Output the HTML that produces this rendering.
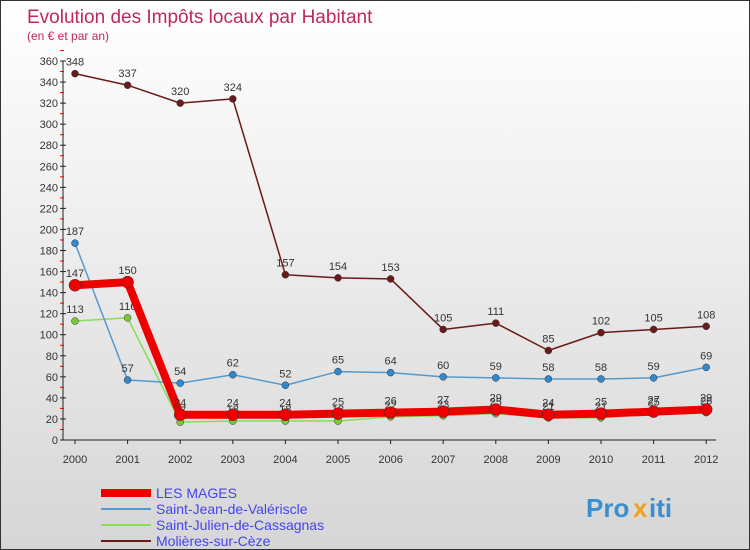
<!DOCTYPE html>
<html><head><meta charset="utf-8"><style>
body{margin:0}
#c{width:748px;height:548px;border:1px solid #333;position:relative;background:linear-gradient(#ffffff,#d6d6d6);font-family:"Liberation Sans",sans-serif;overflow:hidden}
</style></head><body>
<div id="c">
<svg id="s" width="748" height="548" xmlns="http://www.w3.org/2000/svg">
<text x="26" y="22" font-size="19" fill="#c0285a">Evolution des Impôts locaux par Habitant</text>
<text x="26" y="39" font-size="12" fill="#c0285a">(en € et par an)</text>
<g id="axes"></g><g id="series"></g><g id="legend"></g>
<g font-size="26" font-weight="bold">
<text x="585" y="516" fill="#3a8fd0">Pro</text><text x="632" y="516" fill="#f0a020">x</text><text x="648" y="516" fill="#3a8fd0">iti</text>
</g>
</svg>
</div>
<script>
const years=[2000,2001,2002,2003,2004,2005,2006,2007,2008,2009,2010,2011,2012];
const yTicks=[0,20,40,60,80,100,120,140,160,180,200,220,240,260,280,300,320,340,360];
const mages=[147,150,24,24,24,25,26,27,29,24,25,27,29];
const stJean=[187,57,54,62,52,65,64,60,59,58,58,59,69];
const stJulien=[113,116,17,18,18,18,22,23,25,21,21,25,26];
const molieres=[348,337,320,324,157,154,153,105,111,85,102,105,108];
const NS="http://www.w3.org/2000/svg";
const X=i=>74+i*52.6, Y=v=>439-v*379/360;
function mk(t,a,p){const e=document.createElementNS(NS,t);for(const k in a)e.setAttribute(k,a[k]);p.appendChild(e);return e;}
const ax=document.getElementById('axes');
let l=mk('line',{x1:62,y1:Y(360),x2:62,y2:Y(0),stroke:'#222'},ax);


l=mk('line',{x1:62,y1:Y(0),x2:X(12)+10,y2:Y(0),stroke:'#222'},ax);


yTicks.forEach(v=>{
 mk('line',{x1:59,x2:65,y1:Y(v),y2:Y(v),stroke:'#222'},ax);
 mk('line',{x1:59,x2:63,y1:Y(v+10),y2:Y(v+10),stroke:'#e00'},ax);
 const t=mk('text',{x:57,y:Y(v)+4,'text-anchor':'end','font-size':11,fill:'#333'},ax);t.textContent=v;
 
 
});
years.forEach((y,i)=>{
 mk('line',{x1:X(i),x2:X(i),y1:Y(0),y2:Y(0)+4,stroke:'#222'},ax);
 const t=mk('text',{x:X(i),y:Y(0)+23,'text-anchor':'middle','font-size':11,fill:'#333'},ax);t.textContent=y;
 
 
});
const sg=document.getElementById('series');
function series(d,name,col,w,dot,r,labels){
 const g=mk('g',{},sg);
 
 
 mk('polyline',{points:d.map((v,i)=>X(i)+','+Y(v)).join(' '),fill:'none',stroke:col,'stroke-width':w,'stroke-linejoin':'round'},g);
 d.forEach((v,i)=>{
  const c=mk('circle',{cx:X(i),cy:Y(v),r:r,fill:dot,stroke:'#333','stroke-width':0.5},g);
  
  
  if(labels){const t=mk('text',{x:X(i),y:Y(v)-8,'text-anchor':'middle','font-size':11,fill:'#333'},g);t.textContent=v;}
 });
}
series(stJulien,'series-saint-julien','#88dd55',1.5,'#77cc33',3.5,true);
series(stJean,'series-saint-jean','#5599cc',1.5,'#3388cc',3.5,true);
series(molieres,'series-molieres','#6b1a1a',1.5,'#6b1a1a',3.5,true);
series(mages,'series-les-mages','#ee0000',8,'#ee0000',6,true);
const lg=document.getElementById('legend');
const items=[['LES MAGES','#ee0000',8],['Saint-Jean-de-Valériscle','#5599cc',2],['Saint-Julien-de-Cassagnas','#88dd55',2],['Molières-sur-Cèze','#6b1a1a',2]];
items.forEach((it,i)=>{
 const y=492+i*16;
 const g=mk('g',{},lg);
 
 
 mk('line',{x1:100,x2:150,y1:y,y2:y,stroke:it[1],'stroke-width':it[2]},g);
 const t=mk('text',{x:155,y:y+5,'font-size':14,fill:'#4444ee'},g);t.textContent=it[0];
});
</script>
</body></html>
